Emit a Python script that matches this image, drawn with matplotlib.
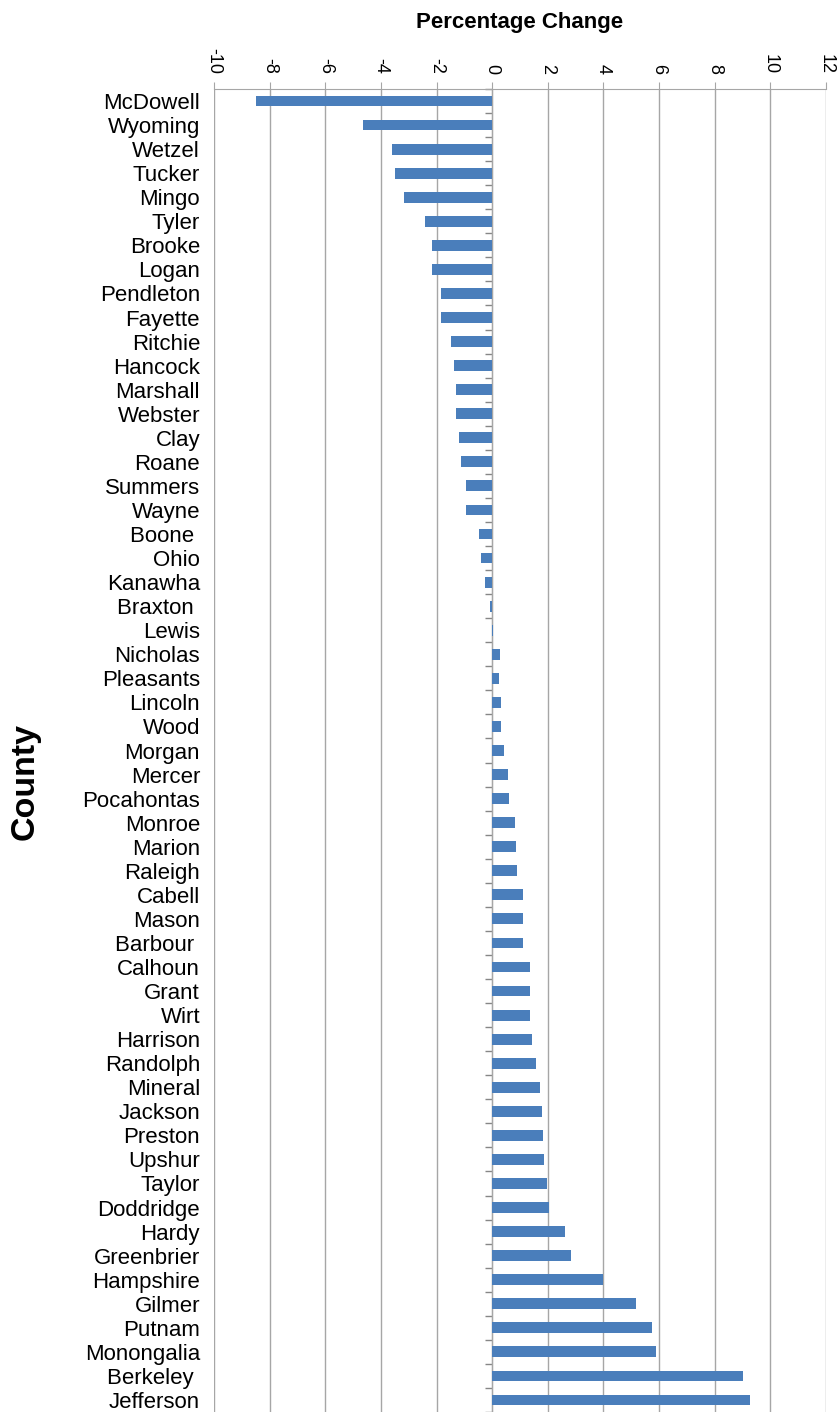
import matplotlib
matplotlib.use("Agg")
import matplotlib.pyplot as plt
import numpy as np

counties = ["McDowell", "Wyoming", "Wetzel", "Tucker", "Mingo", "Tyler", "Brooke", "Logan",
            "Pendleton", "Fayette", "Ritchie", "Hancock", "Marshall", "Webster", "Clay", "Roane",
            "Summers", "Wayne", "Boone ", "Ohio", "Kanawha", "Braxton ", "Lewis", "Nicholas",
            "Pleasants", "Lincoln", "Wood", "Morgan", "Mercer", "Pocahontas", "Monroe", "Marion",
            "Raleigh", "Cabell", "Mason", "Barbour ", "Calhoun", "Grant", "Wirt", "Harrison",
            "Randolph", "Mineral", "Jackson", "Preston", "Upshur", "Taylor", "Doddridge", "Hardy",
            "Greenbrier", "Hampshire", "Gilmer", "Putnam", "Monongalia", "Berkeley ", "Jefferson"]
pct_change = [-8.49, -4.63, -3.59, -3.51, -3.18, -2.42, -2.15, -2.15,
              -1.85, -1.85, -1.48, -1.37, -1.31, -1.31, -1.20, -1.13,
              -0.93, -0.93, -0.49, -0.39, -0.25, -0.08, 0.04, 0.27,
              0.26, 0.30, 0.30, 0.44, 0.57, 0.61, 0.81, 0.85,
              0.88, 1.12, 1.12, 1.12, 1.35, 1.35, 1.35, 1.42,
              1.59, 1.72, 1.79, 1.83, 1.86, 1.98, 2.05, 2.62,
              2.82, 3.99, 5.16, 5.75, 5.88, 9.01, 9.25]
x_ticks = [-10, -8, -6, -4, -2, 0, 2, 4, 6, 8, 10, 12]

plt.rcParams['font.family'] = ['Liberation Sans', 'DejaVu Sans']
plt.rcParams['axes.unicode_minus'] = False

fig = plt.figure(figsize=(8.38, 14.12), dpi=100)
ax = fig.add_axes([214/838, 0.0, (826-214)/838, 1 - 89/1412])

y = np.arange(len(counties))
ax.barh(y, pct_change, height=0.45, color='#4a7ebb', zorder=3)

xmin, xmax = x_ticks[0], x_ticks[-1]
ax.set_xlim(xmin, xmax)
ax.set_ylim(len(counties) - 0.5, -0.5)

grid_c = '#a6a6a6'
ax.set_xticks(x_ticks)
ax.xaxis.tick_top()
ax.xaxis.set_label_position('top')
ax.tick_params(axis='x', which='major', direction='out', length=5, color=grid_c,
               labelsize=13, labelrotation=-90, pad=6)
for lab in ax.get_xticklabels():
    lab.set_va('bottom')
ax.grid(axis='x', color=grid_c, linewidth=1.0, zorder=0)
ax.set_xlabel('Percentage Change', fontsize=16, fontweight='bold', labelpad=14)

ax.set_yticks(y)
ax.set_yticklabels(counties)
ax.tick_params(axis='y', length=0, labelsize=16, pad=10)

for s in ['left', 'right', 'bottom']:
    ax.spines[s].set_visible(False)
ax.spines['top'].set_color(grid_c)

# vertical axis line at zero with category boundary ticks
loc0 = (0 - xmin) / (xmax - xmin)
sec = ax.secondary_yaxis(loc0)
sec.set_yticks(np.arange(-0.5, len(counties) + 0.5, 1.0))
sec.set_yticklabels([])
sec.tick_params(axis='y', direction='out', length=5, color='#868686', width=1)
sec.spines['left'].set_color('#868686')

fig.text(25/838, 1 - 781/1412, 'County', rotation=90, fontsize=24.5, fontweight='bold',
         ha='center', va='center')

fig.savefig('out.png', dpi=100)
